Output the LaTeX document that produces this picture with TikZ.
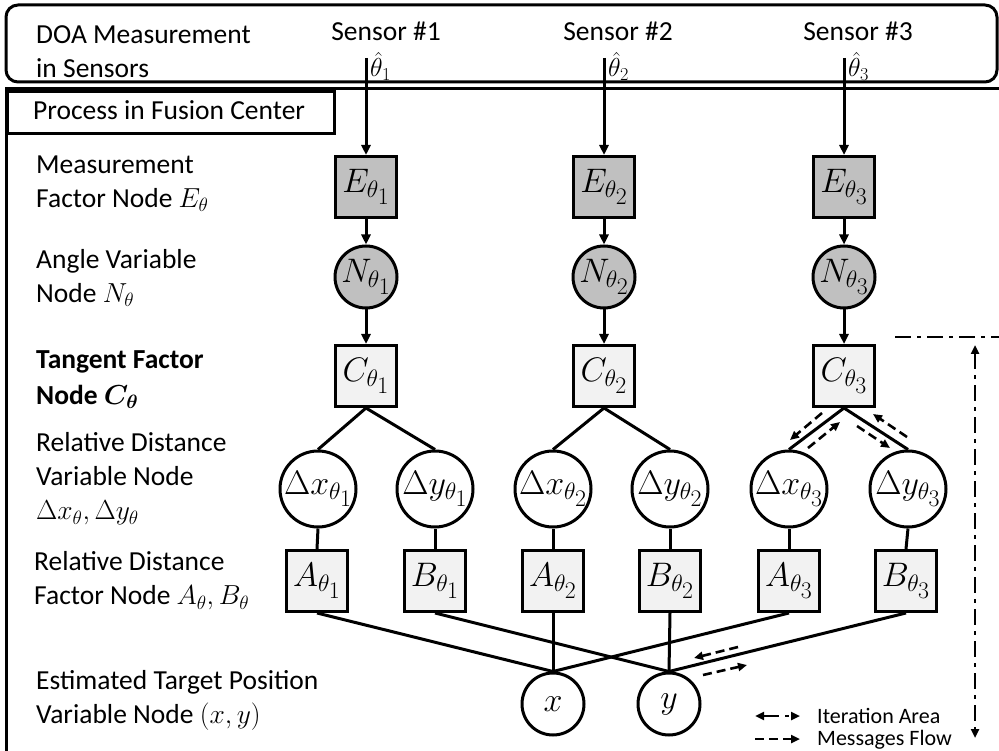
\RequirePackage{fix-cm}
\documentclass[tikz,border=0pt]{standalone}
\usepackage{fontspec}
\setmainfont{Carlito}
\usetikzlibrary{arrows.meta,calc}
\definecolor{darkfill}{HTML}{C0C0C0}
\definecolor{lightfill}{HTML}{F2F2F2}
\tikzset{
  conn/.style={line width=3pt},
  arr/.style={conn, -{Triangle[length=10pt,width=9pt]}},
  fbox/.style={draw, line width=3pt, rectangle, minimum width=61pt, minimum height=61pt, inner sep=0pt, font=\fontsize{34}{36}\selectfont},
  gfac/.style={fbox, fill=darkfill},
  lfac/.style={fbox, fill=lightfill},
  cvar/.style={draw, line width=3pt, circle, inner sep=0pt, font=\fontsize{34}{36}\selectfont},
  gvar/.style={cvar, minimum size=62pt, fill=darkfill},
  dvar/.style={cvar, minimum size=76pt, fill=white},
  pvar/.style={cvar, minimum size=62pt, fill=white},
  lab/.style={anchor=west, align=left, inner sep=0pt, font=\fontsize{27.5}{34}\selectfont},
  hatlab/.style={anchor=south west, inner sep=0pt, font=\fontsize{26}{28}\selectfont},
  leglab/.style={anchor=west, inner sep=0pt, font=\fontsize{22}{26}\selectfont},
  msg/.style={line width=2.6pt, dash pattern=on 9pt off 5pt, -{Triangle[length=9pt,width=8pt]}},
  iter/.style={line width=2.6pt, dash pattern=on 16pt off 6pt on 4pt off 6pt},
  itertip/.style={iter, {Triangle[length=9pt,width=8pt]}-{Triangle[length=9pt,width=8pt]}},
  frame/.style={line width=3pt}
}
\newcommand{\ctr}[1]{\makebox[0pt][c]{$#1$}}
\newcommand{\thsub}[2]{#1_{\theta_{\scriptstyle #2}}}
\begin{document}
\begin{tikzpicture}[x=1pt,y=-1pt]
\useasboundingbox (0,0) rectangle (999,751);
% frames
\draw[frame, rounded corners=12pt] (6,5) rectangle (997,82);
\draw[frame] (999,89) -- (6,89) -- (6,753);
\node[draw, line width=3pt, anchor=north west, minimum width=327pt, minimum height=42pt, inner sep=0pt] (pbox) at (6,90) {};
\node[lab] (ptext) at (33,110) {Process in Fusion Center};
% left labels
\node[lab] (tdoa) at (36,52) {DOA Measurement\\in Sensors};
\node[lab] (tmeas) at (36,184) {Measurement\\Factor Node $E_\theta$};
\node[lab] (tang) at (36,278) {Angle Variable\\Node $N_\theta$};
\node[lab, font=\fontsize{27.5}{36}\selectfont\bfseries\boldmath] (ttan) at (36,380) {Tangent Factor\\Node $C_\theta$};
\node[lab] (trdv) at (36,479) {Relative Distance\\Variable Node\\$\Delta x_\theta,\Delta y_\theta$};
\node[lab] (trdf) at (34,581) {Relative Distance\\Factor Node $A_\theta,B_\theta$};
\node[lab] (test) at (36,700) {Estimated Target Position\\Variable Node $(x,y)$};
% sensor labels
\node[lab, anchor=center] (sn1) at (386,31) {Sensor \#1};
\node[lab, anchor=center] (sn2) at (618,31) {Sensor \#2};
\node[lab, anchor=center] (sn3) at (858,31) {Sensor \#3};
\node[hatlab] (th1) at (370,81) {$\hat\theta_1$};
\node[hatlab] (th2) at (608,81) {$\hat\theta_2$};
\node[hatlab] (th3) at (848,81) {$\hat\theta_3$};
\coordinate (s1) at (366,58);
\coordinate (s2) at (604,58);
\coordinate (s3) at (844,58);
% nodes
\node[gfac] (E1) at (366,187) {\ctr{\thsub{E}{1}}};
\node[gfac] (E2) at (604,187) {\ctr{\thsub{E}{2}}};
\node[gfac] (E3) at (844,187) {\ctr{\thsub{E}{3}}};
\node[gvar] (N1) at (366,277) {\ctr{\thsub{N}{1}}};
\node[gvar] (N2) at (604,277) {\ctr{\thsub{N}{2}}};
\node[gvar] (N3) at (844,277) {\ctr{\thsub{N}{3}}};
\node[lfac] (C1) at (366,376) {\ctr{\thsub{C}{1}}};
\node[lfac] (C2) at (604,376) {\ctr{\thsub{C}{2}}};
\node[lfac] (C3) at (844,376) {\ctr{\thsub{C}{3}}};
\node[dvar] (dx1) at (318,489) {\ctr{\thsub{\Delta x}{1}}};
\node[dvar] (dy1) at (435,489) {\ctr{\thsub{\Delta y}{1}}};
\node[dvar] (dx2) at (553,489) {\ctr{\thsub{\Delta x}{2}}};
\node[dvar] (dy2) at (670,489) {\ctr{\thsub{\Delta y}{2}}};
\node[dvar] (dx3) at (789,489) {\ctr{\thsub{\Delta x}{3}}};
\node[dvar] (dy3) at (908,489) {\ctr{\thsub{\Delta y}{3}}};
\node[lfac] (A1) at (317,581) {\ctr{\thsub{A}{1}}};
\node[lfac] (B1) at (435,581) {\ctr{\thsub{B}{1}}};
\node[lfac] (A2) at (553,581) {\ctr{\thsub{A}{2}}};
\node[lfac] (B2) at (670,581) {\ctr{\thsub{B}{2}}};
\node[lfac] (A3) at (789,581) {\ctr{\thsub{A}{3}}};
\node[lfac] (B3) at (906,581) {\ctr{\thsub{B}{3}}};
\node[pvar] (X) at (553,704) {\ctr{x}};
\node[pvar] (Y) at (669,704) {\ctr{y}};
% connectors
\foreach \i in {1,2,3}{
  \draw[arr] (s\i) -- (E\i.north);
  \draw[arr] (E\i.south) -- (N\i.north);
  \draw[arr] (N\i.south) -- (C\i.north);
  \draw[conn] (C\i.south) -- (dx\i.north);
  \draw[conn] (C\i.south) -- (dy\i.north);
  \draw[conn] (dx\i.south) -- (A\i.north);
  \draw[conn] (dy\i.south) -- (B\i.north);
  \draw[conn] (A\i.south) -- (X.north);
  \draw[conn] (B\i.south) -- (Y.north);
}
% message flow arrows
\coordinate (m1a) at (822,413); \coordinate (m1b) at (790,440);
\coordinate (m2a) at (808,448); \coordinate (m2b) at (840,422);
\coordinate (m3a) at (857,426); \coordinate (m3b) at (890,448);
\coordinate (m4a) at (907,437); \coordinate (m4b) at (873,414);
\coordinate (m5a) at (738,647); \coordinate (m5b) at (694,658);
\coordinate (m6a) at (703,675); \coordinate (m6b) at (747,665);
\draw[msg] (m1a) -- (m1b);
\draw[msg] (m2a) -- (m2b);
\draw[msg] (m3a) -- (m3b);
\draw[msg] (m4a) -- (m4b);
\draw[msg] (m5a) -- (m5b);
\draw[msg] (m6a) -- (m6b);
% iteration area
\coordinate (it1) at (895,337); \coordinate (it2) at (999,337);
\coordinate (it3) at (975,345); \coordinate (it4) at (975,738);
\draw[iter] (it1) -- (it2);
\draw[itertip] (it3) -- (it4);
% legend
\coordinate (lg1) at (755,716); \coordinate (lg2) at (800,716);
\coordinate (lg3) at (755,739); \coordinate (lg4) at (800,739);
\draw[itertip] (lg1) -- (lg2);
\draw[msg] (lg3) -- (lg4);
\node[leglab] (lit) at (817,716) {Iteration Area};
\node[leglab] (lmf) at (817,740) {Messages Flow};
\end{tikzpicture}
\end{document}
